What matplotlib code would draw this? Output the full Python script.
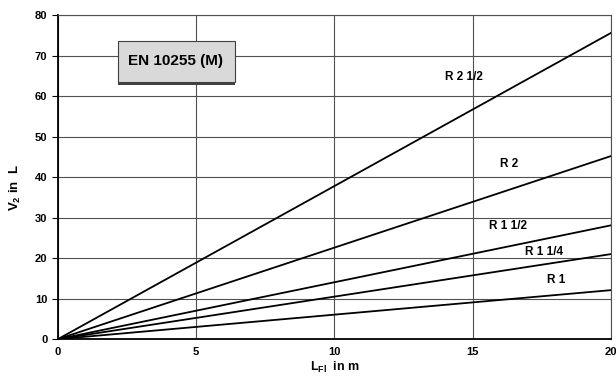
import matplotlib.pyplot as plt
from matplotlib.patches import FancyBboxPatch

plt.rcParams['font.family'] = ['Liberation Sans', 'DejaVu Sans']
plt.rcParams['font.weight'] = 'bold'
plt.rcParams['mathtext.fontset'] = 'custom'
plt.rcParams['mathtext.rm'] = 'Liberation Sans:bold'
plt.rcParams['mathtext.bf'] = 'Liberation Sans:bold'
plt.rcParams['mathtext.default'] = 'bf'

# pipe sizes and volume at 20 m
names = ['R 1', 'R 1 1/4', 'R 1 1/2', 'R 2', 'R 2 1/2']
v_at_20 = [12.1, 21.0, 28.1, 45.2, 75.6]
lab_x = [17.7, 16.9, 15.6, 16.0, 14.0]
lab_y = [14.6, 21.5, 27.9, 43.2, 64.7]
x_end = [0, 20]

fig = plt.figure(figsize=(6.16, 3.76), dpi=100)
ax = fig.add_axes([0.094, 0.098, 0.898, 0.862])

for n, v, lx, ly in zip(names, v_at_20, lab_x, lab_y):
    ax.plot(x_end, [0, v], color='black', lw=1.3)
    ax.text(lx, ly, n, fontsize=8.5, fontweight='bold', ha='left', va='center')

ax.set_xlim(0, 20)
ax.set_ylim(0, 80)
ax.set_xticks([0, 5, 10, 15, 20])
ax.set_yticks(range(0, 81, 10))
ax.grid(True, color='#505050', lw=0.8)
ax.set_axisbelow(True)
ax.tick_params(axis='both', labelsize=8, length=4, width=0.8)
ax.tick_params(axis='x', length=0, pad=6)
for lab in ax.get_xticklabels() + ax.get_yticklabels():
    lab.set_fontweight('bold')
for s in ['left', 'bottom']:
    ax.spines[s].set_linewidth(1.3)
for s in ['top', 'right']:
    ax.spines[s].set_color('#505050')
    ax.spines[s].set_linewidth(0.8)

fig.text(335 / 616, 1 - 367 / 376, 'L$_{Fl}$  in m', fontsize=9, fontweight='bold',
         ha='center', va='center')
fig.text(15 / 616, 1 - 188 / 376, 'V$_{2}$ in  L', fontsize=9.5, fontweight='bold',
         ha='center', va='center', rotation=90)

# title box
shadow = FancyBboxPatch((118 / 616, 1 - 85 / 376), 117 / 616, 42 / 376,
                        boxstyle='square,pad=0', transform=fig.transFigure,
                        facecolor='#404040', edgecolor='none', zorder=5)
box = FancyBboxPatch((118 / 616, 1 - 82 / 376), 117 / 616, 41 / 376,
                     boxstyle='square,pad=0', transform=fig.transFigure,
                     facecolor='#d9d9d9', edgecolor='#404040', lw=0.8, zorder=6)
fig.patches.extend([shadow, box])
fig.text(176 / 616, 1 - 61 / 376, 'EN 10255 (M)', fontsize=11, fontweight='bold',
         ha='center', va='center', zorder=7)

fig.savefig('out.png', dpi=100)
